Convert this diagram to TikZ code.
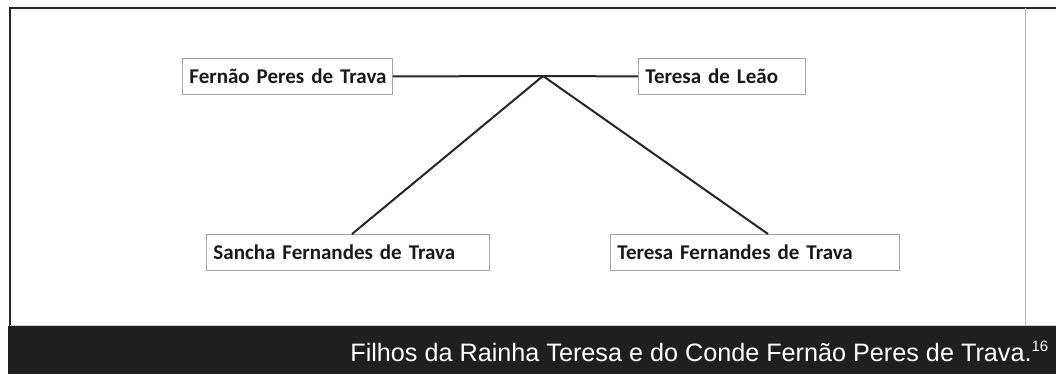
\documentclass[tikz,border=0pt]{standalone}
\usepackage{fontspec}
\setmainfont{Liberation Sans}
\newfontfamily\boxfont{Carlito}
\begin{document}
\begin{tikzpicture}[x=1pt,y=-1pt,
  person/.style={draw=gray!70,line width=0.9pt,fill=white,inner sep=0pt,
    minimum height=36pt,anchor=north west,font=\boxfont\bfseries\fontsize{21}{24}\selectfont,text=black!90,align=left},
  link/.style={draw=black!85,line width=2pt}]
\useasboundingbox (0,0) rectangle (1056,374);
\fill[white] (0,0) rectangle (1056,374);
% frame
\draw[black!85,line width=2pt] (10,326) -- (10,8) -- (1056,8);
\draw[gray!60,line width=0.8pt] (1025,8) -- (1025,326);
\draw[gray!40,line width=0.8pt] (10,325) -- (1056,325);
\fill[black!88] (8,326) rectangle (1056,374);
% nodes
\node[person,text width=210pt] (fpt) at (182,58) {\hspace*{7pt}\mbox{Fernão Peres de Trava}};
\node[person,text width=167pt] (tl) at (638,58) {\hspace*{7pt}\mbox{Teresa de Leão}};
\node[person,text width=283pt] (sft) at (206,234) {\hspace*{7pt}\mbox{Sancha Fernandes de Trava}};
\node[person,text width=289pt] (tft) at (610,234) {\hspace*{7pt}\mbox{Teresa Fernandes de Trava}};
\coordinate (j) at (543,76);
\coordinate (sa) at (352,234);
\coordinate (ta) at (768,234);
\draw[link] (fpt.east) -- (j) -- (tl.west);
\draw[link] (j) -- (sa);
\draw[link] (j) -- (ta);
% caption
\node[anchor=base east,text=white,font=\fontsize{25.2}{28}\selectfont,inner sep=0pt] (cap) at (1049,361)
  {Filhos da Rainha Teresa e do Conde Fernão Peres de Trava.\textsuperscript{\fontsize{15}{15}\selectfont 16}};
\end{tikzpicture}
\end{document}
